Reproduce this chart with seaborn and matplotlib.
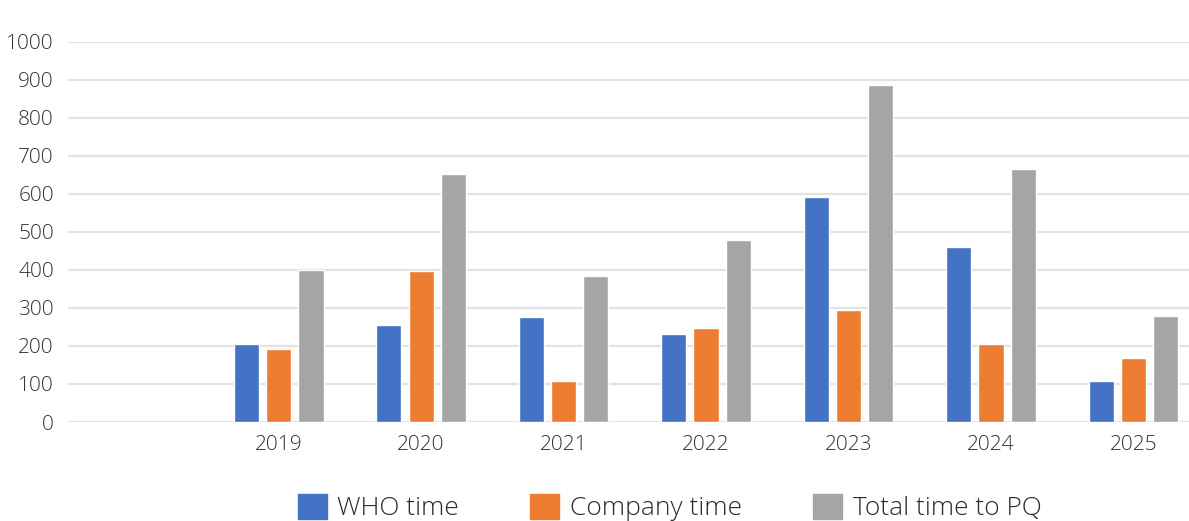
import numpy as np
import pandas as pd
import matplotlib
matplotlib.use("Agg")
import matplotlib.pyplot as plt
import seaborn as sns

years = ["2019", "2020", "2021", "2022", "2023", "2024", "2025"]
who_time = [205, 256, 275, 231, 592, 461, 109]
company_time = [191, 396, 108, 247, 294, 206, 168]
total_time = [400, 652, 384, 478, 887, 666, 278]
series_names = ["WHO time", "Company time", "Total time to PQ"]
series_colors = ["#4472C4", "#ED7D31", "#A5A5A5"]
y_ticks = [0, 100, 200, 300, 400, 500, 600, 700, 800, 900, 1000]

df = pd.DataFrame({
    "year": years * 3,
    "series": [series_names[0]] * 7 + [series_names[1]] * 7 + [series_names[2]] * 7,
    "days": who_time + company_time + total_time,
})

sns.set_theme(style="white")
plt.rcParams["font.family"] = ["Open Sans", "DejaVu Sans"]

fig = plt.figure(figsize=(11.89, 5.21), dpi=100)
ax = fig.add_axes([0.057, 0.190, 0.943, 0.730])

sns.barplot(
    data=df, x="year", y="days", hue="series", order=years,
    hue_order=series_names, palette=series_colors,
    width=0.68, gap=0.22, ax=ax, legend=False, saturation=1,
)

ax.set_ylim(0, 1000)
ax.set_xlim(-1.48, 6.39)
ax.set_yticks(y_ticks)
ax.set_yticklabels([str(t) for t in y_ticks])
ax.set_xlabel("")
ax.set_ylabel("")
ax.grid(axis="y", color="#E3E3E3", linewidth=1.6)
ax.set_axisbelow(True)
for s in ax.spines.values():
    s.set_visible(False)
ax.tick_params(axis="both", length=0, labelsize=15, colors="#333333")
ax.tick_params(axis="x", pad=9)
ax.tick_params(axis="y", pad=10)
for lbl in ax.get_xticklabels() + ax.get_yticklabels():
    lbl.set_fontweight("light")

handles = [plt.Rectangle((0, 0), 1, 1, color=c) for c in series_colors]
leg = fig.legend(
    handles, series_names, loc="center", bbox_to_anchor=(0.563, 0.026),
    ncol=3, frameon=False, handlelength=1.1, handleheight=1.1,
    handletextpad=0.4, columnspacing=2.7, labelcolor="#2b2b2b",
    prop={"size": 19, "weight": "light"},
)

fig.savefig("out.png", dpi=100)
